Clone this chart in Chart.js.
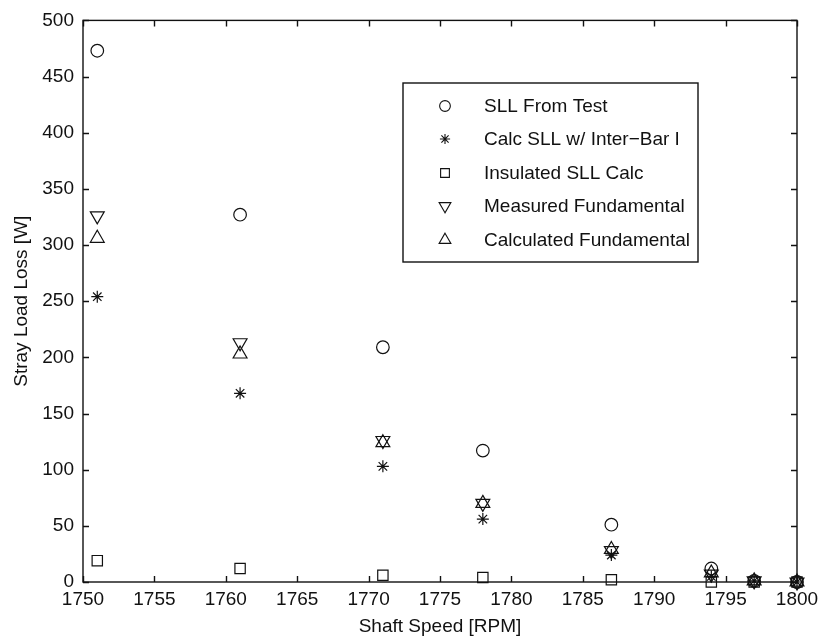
<!DOCTYPE html>
<html>
<head>
<meta charset="utf-8">
<title>Stray Load Loss vs Shaft Speed</title>
<script src="https://cdn.jsdelivr.net/npm/chart.js@4/dist/chart.umd.min.js"></script>
<style>
  html, body { margin: 0; padding: 0; background: #fff; }
  #wrap { width: 825px; height: 643px; }
</style>
</head>
<body>
<div id="wrap"><canvas id="sll"></canvas></div>
<script>
// shaft speed of each test point [RPM]
var speed = [1751, 1761, 1771, 1778, 1787, 1794, 1797, 1800];

// losses [W]
var sllFromTest   = [473, 327, 209, 117, 51, 12, 1, 0];
var calcInterBar  = [254, 168, 103, 56, 24, 5, 1, 0];
var insulatedCalc = [19, 12, 6, 4, 2, 0, 0, 0];
var measuredFund  = [326, 213, 126, 70, 28, 7, 1, 0];
var calculatedFund = [306, 203, 124, 70, 29, 8, 1, 0];

var seriesNames = ['SLL From Test', 'Calc SLL w/ Inter\u2212Bar I', 'Insulated SLL Calc',
                   'Measured Fundamental', 'Calculated Fundamental'];

var xTicks = [1750, 1755, 1760, 1765, 1770, 1775, 1780, 1785, 1790, 1795, 1800];
var yTicks = [0, 50, 100, 150, 200, 250, 300, 350, 400, 450, 500];

var FONT = 'Liberation Sans, Arial, Helvetica, sans-serif';
var INK = '#111';

function pts(ys) {
  return speed.map(function (x, i) { return {x: x, y: ys[i]}; });
}

// marker style for each series, in legend order
var markers = [
  {pointStyle: 'circle',   radius: 6.3, rotation: 0},
  {pointStyle: 'star',     radius: 6,   rotation: 0},
  {pointStyle: 'rect',     radius: 7.3, rotation: 0},
  {pointStyle: 'triangle', radius: 8,   rotation: 180},
  {pointStyle: 'triangle', radius: 8,   rotation: 0}
];
var values = [sllFromTest, calcInterBar, insulatedCalc, measuredFund, calculatedFund];

var datasets = values.map(function (ys, i) {
  return {
    label: seriesNames[i],
    data: pts(ys),
    showLine: false,
    clip: false,
    pointStyle: markers[i].pointStyle,
    pointRadius: markers[i].radius,
    pointHoverRadius: markers[i].radius,
    pointRotation: markers[i].rotation,
    pointBorderWidth: 1.2,
    pointBorderColor: INK,
    pointBackgroundColor: 'rgba(0,0,0,0)'
  };
});

// box around the axes with inward ticks on every side
var boxAxes = {
  id: 'boxAxes',
  afterDatasetsDraw: function (chart) {
    var a = chart.chartArea, ctx = chart.ctx, len = 6;
    var xs = chart.scales.x, ys = chart.scales.y;
    ctx.save();
    ctx.strokeStyle = INK;
    ctx.lineWidth = 1.4;
    ctx.strokeRect(a.left, a.top, a.right - a.left, a.bottom - a.top);
    ctx.beginPath();
    xTicks.forEach(function (v) {
      var px = Math.round(xs.getPixelForValue(v)) + 0.5;
      ctx.moveTo(px, a.bottom); ctx.lineTo(px, a.bottom - len);
      ctx.moveTo(px, a.top);    ctx.lineTo(px, a.top + len);
    });
    yTicks.forEach(function (v) {
      var py = Math.round(ys.getPixelForValue(v)) + 0.5;
      ctx.moveTo(a.left, py);  ctx.lineTo(a.left + len, py);
      ctx.moveTo(a.right, py); ctx.lineTo(a.right - len, py);
    });
    ctx.stroke();
    ctx.restore();
  }
};

// legend drawn inside the plot, in a framed box
var boxLegend = {
  id: 'boxLegend',
  afterDraw: function (chart) {
    var ctx = chart.ctx;
    var left = 403, top = 83, right = 698, bottom = 262;
    var rowY = [106, 139, 173, 206, 240];
    ctx.save();
    ctx.fillStyle = '#fff';
    ctx.fillRect(left, top, right - left, bottom - top);
    ctx.strokeStyle = INK;
    ctx.lineWidth = 1.4;
    ctx.strokeRect(left, top, right - left, bottom - top);
    chart.data.datasets.forEach(function (ds, i) {
      ctx.strokeStyle = INK;
      ctx.fillStyle = 'rgba(0,0,0,0)';
      ctx.lineWidth = 1.1;
      Chart.helpers.drawPoint(ctx, {
        pointStyle: ds.pointStyle,
        radius: ds.pointRadius * 0.85,
        rotation: ds.pointRotation,
        borderWidth: 1
      }, 445, rowY[i]);
      ctx.fillStyle = INK;
      ctx.font = '19px ' + FONT;
      ctx.textAlign = 'left';
      ctx.textBaseline = 'middle';
      ctx.fillText(ds.label, 484, rowY[i] + 1);
    });
    ctx.restore();
  }
};

new Chart(document.getElementById('sll'), {
  type: 'scatter',
  data: {datasets: datasets},
  plugins: [boxAxes, boxLegend],
  options: {
    responsive: true,
    maintainAspectRatio: false,
    animation: false,
    events: [],
    layout: {padding: {top: 17, right: 28, left: 0, bottom: 0}},
    plugins: {legend: {display: false}, tooltip: {enabled: false}},
    scales: {
      x: {
        type: 'linear',
        min: 1750, max: 1800,
        afterBuildTicks: function (s) { s.ticks = xTicks.map(function (v) { return {value: v}; }); },
        afterFit: function (s) { s.height = 61; },
        grid: {display: false, drawTicks: false, tickLength: 0},
        border: {display: false},
        ticks: {color: INK, padding: 6, maxRotation: 0, font: {family: FONT, size: 19},
                callback: function (v) { return String(v); }},
        title: {display: true, text: 'Shaft Speed [RPM]', color: INK,
                padding: {top: 0, bottom: 5}, font: {family: FONT, size: 19}}
      },
      y: {
        type: 'linear',
        min: 0, max: 500,
        afterBuildTicks: function (s) { s.ticks = yTicks.map(function (v) { return {value: v}; }); },
        afterFit: function (s) { s.width = 83; },
        grid: {display: false, drawTicks: false, tickLength: 0},
        border: {display: false},
        ticks: {color: INK, padding: 9, font: {family: FONT, size: 19},
                callback: function (v) { return String(v); }},
        title: {display: true, text: 'Stray Load Loss [W]', color: INK,
                padding: {top: 10, bottom: 0}, font: {family: FONT, size: 19}}
      }
    }
  }
});
</script>
</body>
</html>
